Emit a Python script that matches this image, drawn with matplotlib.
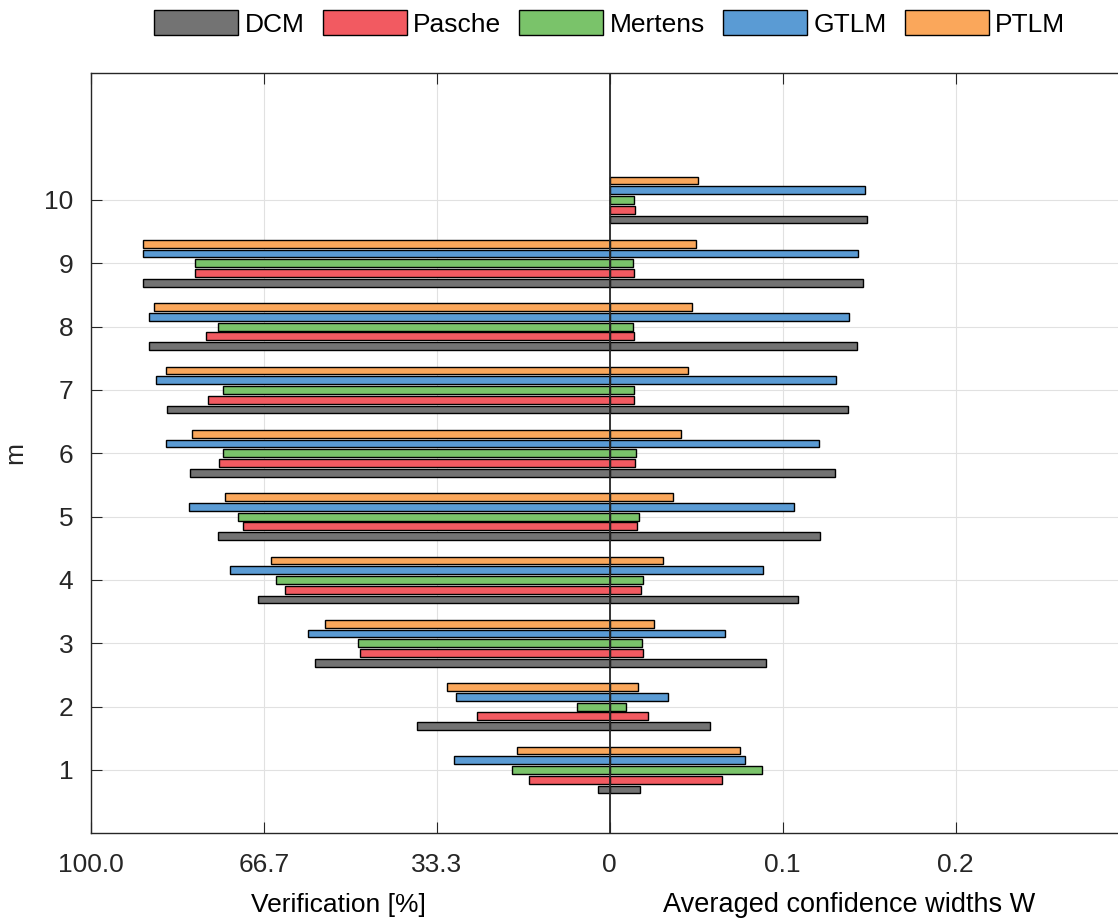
import numpy as np
import matplotlib
matplotlib.use('Agg')
import matplotlib.pyplot as plt
from matplotlib.transforms import blended_transform_factory

plt.rcParams['font.family'] = ['Liberation Sans', 'DejaVu Sans']

m = np.arange(1, 11)
methods = ['DCM', 'Pasche', 'Mertens', 'GTLM', 'PTLM']
colors = ['#737373', '#F25A61', '#7AC36A', '#5A9BD4', '#FAA75B']

# verification rate [%] for m = 1..10
ver_dcm = [2.2, 37.2, 56.9, 67.9, 75.5, 80.9, 85.3, 88.9, 90.0, 0]
ver_pasche = [15.6, 25.5, 48.1, 62.6, 70.7, 75.3, 77.5, 77.9, 80.0, 0]
ver_mertens = [18.9, 6.4, 48.5, 64.3, 71.7, 74.5, 74.5, 75.6, 80.0, 0]
ver_gtlm = [30.1, 29.7, 58.2, 73.2, 81.1, 85.5, 87.5, 88.9, 90.0, 0]
ver_ptlm = [17.8, 31.4, 54.8, 65.3, 74.2, 80.6, 85.6, 87.8, 90.0, 0]

# averaged confidence widths W for m = 1..10
w_dcm = [0.0176, 0.0581, 0.0903, 0.1089, 0.1214, 0.1305, 0.1375, 0.1429, 0.1465, 0.1490]
w_pasche = [0.0651, 0.0222, 0.0193, 0.0180, 0.0156, 0.0147, 0.0143, 0.0141, 0.0141, 0.0147]
w_mertens = [0.0878, 0.0095, 0.0189, 0.0191, 0.0172, 0.0151, 0.0141, 0.0137, 0.0137, 0.0139]
w_gtlm = [0.0784, 0.0338, 0.0664, 0.0886, 0.1066, 0.1208, 0.1309, 0.1382, 0.1436, 0.1479]
w_ptlm = [0.0755, 0.0162, 0.0257, 0.0309, 0.0363, 0.0413, 0.0450, 0.0477, 0.0496, 0.0512]

ver = [ver_dcm, ver_pasche, ver_mertens, ver_gtlm, ver_ptlm]
wid = [w_dcm, w_pasche, w_mertens, w_gtlm, w_ptlm]

xtick_pos = [-0.3, -0.2, -0.1, 0, 0.1, 0.2]
xtick_labels = ['100.0', '66.7', '33.3', '0', '0.1', '0.2']
pct_scale = 0.3 / 100  # 100 % on the left maps to the same length as W = 0.3

fig = plt.figure(figsize=(11.18, 9.22), dpi=100)
ax = fig.add_axes([91 / 1118, 1 - 833.3 / 922, 1037.5 / 1118, 760 / 922])

n = len(methods)
step = (n / (n + 1.5)) / n
bar_h = 0.8 * step
handles = []
for i in range(n):
    y = m + (i - (n - 1) / 2) * step
    left = -np.array(ver[i]) * pct_scale
    ax.barh(y, left, height=bar_h, color=colors[i], edgecolor='black', linewidth=1.0, zorder=2)
    h = ax.barh(y, wid[i], height=bar_h, color=colors[i], edgecolor='black', linewidth=1.0, zorder=2)
    handles.append(h)

ax.axvline(0, color='#262626', lw=1.3, zorder=3)

ax.set_xlim(-0.3, 0.3)
ax.set_ylim(0, 12)
ax.set_xticks(xtick_pos)
ax.set_xticklabels(xtick_labels)
ax.set_yticks(m)
ax.grid(True, color='#e1e1e1', lw=0.8)
ax.set_axisbelow(True)
for s in ax.spines.values():
    s.set_color('#262626')
    s.set_linewidth(1.0)
ax.tick_params(direction='in', length=8, width=0.8, top=True, right=True,
               colors='#262626', labelsize=19)
ax.tick_params(axis='x', pad=14.5)
ax.tick_params(axis='y', pad=12.7)

trans = blended_transform_factory(ax.transData, ax.transAxes)
ax.text(-0.157, -0.104, 'Verification [%]', transform=trans, ha='center',
        va='baseline', fontsize=19, color='black')
ax.text(0.1386, -0.104, 'Averaged confidence widths W', transform=trans, ha='center',
        va='baseline', fontsize=19.5, color='black')
ax.text(-0.0733, 0.5, 'm', transform=ax.transAxes, rotation=90, ha='center',
        va='center', fontsize=19, color='#262626')

fig.legend(handles, methods, loc='center', bbox_to_anchor=(609.75 / 1118, 1 - 23.5 / 922),
           ncol=5, frameon=False, fontsize=19, handlelength=3.18, handleheight=1.06,
           handletextpad=0.25, columnspacing=0.68, borderaxespad=0, borderpad=0)

fig.savefig('out.png', dpi=100)
